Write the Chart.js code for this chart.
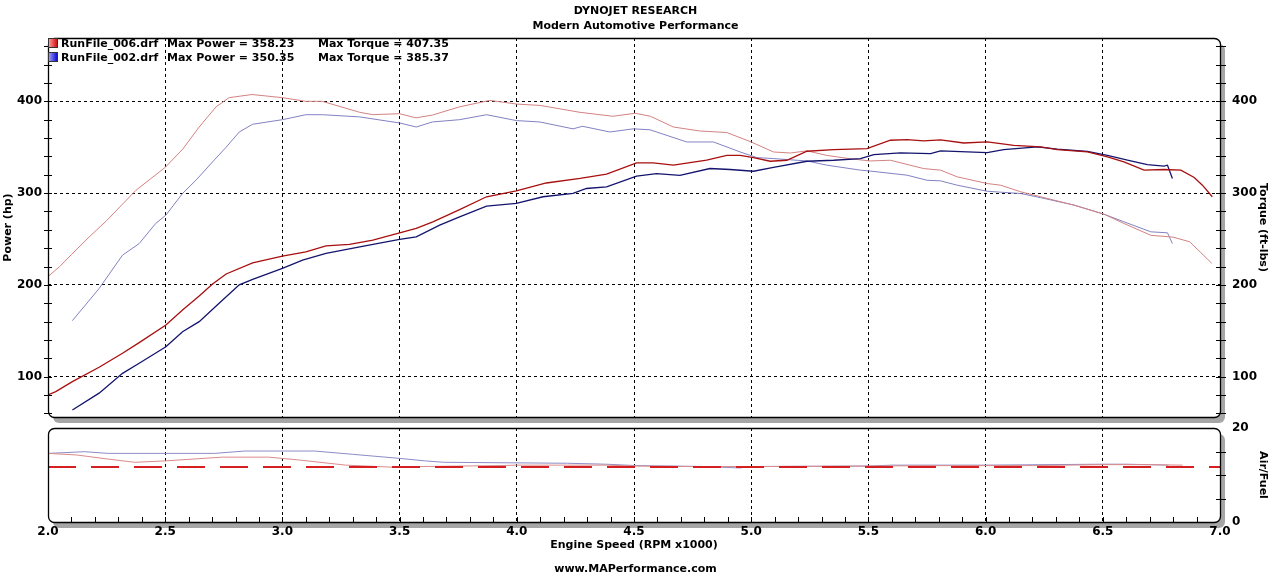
<!DOCTYPE html>
<meta charset="utf-8">
<title>Dynojet run comparison</title>
<script src="https://cdn.jsdelivr.net/npm/chart.js@4.4.1/dist/chart.umd.min.js"></script>
<style>
body {
	margin: 0;
	background: #fff;
	font-family: 'DejaVu Sans', Verdana, sans-serif;
	font-weight: bold;
	color: #000;
}
.wrap {
	position: relative;
	width: 1271px;
	height: 576px;
}
.wrap canvas {
	position: absolute;
	left: 0;
	top: 0;
}
.txt {
	position: absolute;
	font-size: 11px;
	line-height: 14px;
	white-space: pre;
}
.center {
	left: 0;
	width: 1271px;
	text-align: center;
}
.box {
	position: absolute;
	width: 8px;
	height: 8px;
	border: 1px solid #333;
}
</style>

<div class="wrap">
	<canvas id="main" width="1271" height="576"></canvas>
	<canvas id="afr" width="1271" height="576"></canvas>

	<div class="txt center" style="top:4px">DYNOJET RESEARCH</div>
	<div class="txt center" style="top:19px">Modern Automotive Performance</div>

	<div class="box" style="left:48px; top:38px; background:linear-gradient(90deg,#ff9a9a,#d01010)"></div>
	<div class="txt" style="left:61px; top:37px">RunFile_006.drf</div>
	<div class="txt" style="left:167px; top:37px">Max Power = 358.23</div>
	<div class="txt" style="left:318px; top:37px">Max Torque = 407.35</div>

	<div class="box" style="left:48px; top:52px; background:linear-gradient(90deg,#9a9aff,#1010c8)"></div>
	<div class="txt" style="left:61px; top:51px">RunFile_002.drf</div>
	<div class="txt" style="left:167px; top:51px">Max Power = 350.35</div>
	<div class="txt" style="left:318px; top:51px">Max Torque = 385.37</div>

	<div class="txt center" style="top:562px">www.MAPerformance.com</div>
</div>

<script>
// RunFile_006 (red)
const pwr006Rpm = [2.00, 2.033, 2.104, 2.218, 2.318, 2.389, 2.503, 2.574, 2.645, 2.702, 2.76, 2.873, 3.00, 3.10, 3.186, 3.286, 3.386, 3.50, 3.571, 3.642, 3.756, 3.871, 3.998, 4.126, 4.27, 4.383, 4.511, 4.582, 4.668, 4.81, 4.896, 4.953, 5.01, 5.081, 5.152, 5.238, 5.352, 5.494, 5.594, 5.665, 5.736, 5.808, 5.907, 6.007, 6.064, 6.12, 6.235, 6.306, 6.434, 6.52, 6.59, 6.676, 6.761, 6.833, 6.89, 6.925, 6.967];
const pwr006 = [80, 83.7, 94.6, 110.2, 125.5, 137, 156.3, 172.6, 187.8, 200.9, 211.8, 224, 231.3, 236, 242.5, 244, 248.7, 256.7, 261.5, 268.7, 282, 296, 302.5, 311, 316, 320.6, 332.9, 332.9, 330.4, 335.8, 341, 341, 338.7, 334.7, 335.8, 345.6, 347.4, 348.5, 357.6, 358.2, 356.8, 358, 354.6, 355.7, 354, 352, 350.3, 347.4, 344.8, 339.4, 334, 325, 325.7, 325, 317, 308.6, 296];

const tq006Rpm = [2.00, 2.05, 2.10, 2.175, 2.25, 2.375, 2.50, 2.575, 2.645, 2.717, 2.773, 2.87, 3.00, 3.10, 3.17, 3.33, 3.385, 3.50, 3.57, 3.64, 3.756, 3.885, 4.00, 4.10, 4.27, 4.41, 4.505, 4.57, 4.668, 4.78, 4.896, 5.00, 5.095, 5.167, 5.238, 5.324, 5.42, 5.508, 5.594, 5.736, 5.808, 5.879, 6.007, 6.064, 6.15, 6.235, 6.377, 6.505, 6.59, 6.705, 6.80, 6.87, 6.915, 6.965];
const tq006 = [209, 220, 233, 252, 270, 303, 328, 348, 372, 394, 404, 407.4, 404, 400, 400, 388, 385.5, 386.5, 382, 385, 394, 401, 397, 395.5, 388, 383.7, 387, 383.7, 372, 367.7, 366, 355.7, 344.8, 343.7, 346, 341, 337.5, 335, 335.8, 326.7, 325, 317.7, 310.4, 308.6, 301.4, 296, 286.8, 277, 266.9, 254, 252, 247, 236, 223.4];

// RunFile_002 (blue)
const pwr002Rpm = [2.104, 2.218, 2.318, 2.389, 2.503, 2.574, 2.645, 2.73, 2.816, 2.873, 3.00, 3.086, 3.186, 3.33, 3.50, 3.571, 3.671, 3.756, 3.871, 3.998, 4.112, 4.24, 4.297, 4.383, 4.511, 4.596, 4.696, 4.824, 4.91, 5.01, 5.095, 5.238, 5.352, 5.466, 5.523, 5.637, 5.765, 5.808, 6.007, 6.077, 6.221, 6.306, 6.434, 6.52, 6.605, 6.69, 6.761, 6.776, 6.797];
const pwr002 = [63.7, 82, 103.6, 114.5, 132.6, 149, 159.9, 179.9, 200, 206, 218, 227, 234.3, 241.5, 249.5, 252.4, 265, 274, 285.7, 288.7, 296, 299.6, 305, 306.7, 318.4, 321.3, 319.2, 326.8, 325.7, 323.8, 327.9, 334.7, 335.8, 337.6, 342, 343.8, 343, 346, 344.2, 347.4, 350.4, 348, 345.5, 341, 335.8, 331, 329.3, 330.4, 316];

const tq002Rpm = [2.104, 2.218, 2.318, 2.389, 2.46, 2.503, 2.574, 2.631, 2.702, 2.76, 2.816, 2.873, 3.00, 3.10, 3.172, 3.33, 3.50, 3.571, 3.64, 3.756, 3.871, 3.998, 4.098, 4.24, 4.28, 4.397, 4.497, 4.568, 4.725, 4.839, 4.953, 5.024, 5.095, 5.238, 5.324, 5.466, 5.508, 5.665, 5.75, 5.808, 5.879, 6.007, 6.15, 6.235, 6.377, 6.505, 6.59, 6.705, 6.776, 6.797];
const tq002 = [161, 196, 232.4, 245, 267, 276, 299.6, 314, 334, 350, 366.6, 375, 380, 385.4, 385.4, 383, 376.4, 372, 377.5, 380, 385.4, 379, 377.5, 370, 372.8, 366.6, 370, 369, 355.7, 355.7, 344.8, 338.7, 337.6, 335, 330.4, 325, 324, 319.5, 314, 313.3, 308.6, 302, 299.5, 295, 287, 277, 268.7, 257.8, 256.7, 245];

// air / fuel
const afr006Rpm = [2.0, 2.124, 2.255, 2.37, 2.5, 2.745, 2.94, 3.07, 3.27, 3.497, 3.595, 3.92, 4.0, 4.216, 4.38, 4.51, 4.8, 5.0, 5.5, 5.8, 6.2, 6.5, 6.7, 6.84];
const afr006 = [14.6, 14.25, 13.4, 12.7, 13.0, 13.8, 13.8, 13.2, 12.1, 11.6, 11.8, 12.0, 12.1, 12.1, 12.1, 11.9, 11.8, 11.8, 11.9, 12.0, 12.0, 12.2, 12.2, 12.1];
const afr002Rpm = [2.0, 2.157, 2.255, 2.71, 2.84, 3.137, 3.3, 3.497, 3.61, 3.69, 4.216, 4.38, 4.51, 4.8, 4.95, 5.0, 5.5, 5.6, 6.0, 6.5, 6.6, 6.78];
const afr002 = [14.6, 14.96, 14.6, 14.6, 15.1, 15.1, 14.4, 13.55, 13.0, 12.7, 12.5, 12.3, 12.0, 11.8, 11.5, 11.8, 11.9, 12.1, 12.1, 12.3, 12.3, 12.1];
const afrTarget = 11.7;

// axes
const rpmMin = 2.0, rpmMax = 7.0, rpmStep = 0.5;
const powerMin = 56, powerMax = 469, powerStep = 100;
const afrMin = 0, afrMax = 20;
const powerMinorTicks = Array.from({length: 21}, (_, i) => 60 + 20 * i);
const afrMinorTicks = [5, 10, 15];
const rpmMinorTicks = Array.from({length: 49}, (_, i) => +(2.1 + 0.1 * i).toFixed(1));

const pts = (xs, ys) => xs.map((x, i) => ({x: x, y: ys[i]}));

const font = (size) => ({family: "'DejaVu Sans', Verdana, sans-serif", size: size, weight: 'bold'});

const panelFrame = {
	id: 'panelFrame',
	beforeDraw(chart) {
		const {ctx, chartArea: a} = chart;
		const w = a.right - a.left, h = a.bottom - a.top;
		ctx.save();
		ctx.fillStyle = '#a6a6a6';
		ctx.beginPath();
		ctx.roundRect(a.left + 5, a.top + 6, w, h, 6);
		ctx.fill();
		ctx.fillStyle = '#fff';
		ctx.beginPath();
		ctx.roundRect(a.left, a.top, w, h, 6);
		ctx.fill();
		ctx.restore();
	},
	afterDraw(chart, args, opts) {
		const {ctx, chartArea: a, scales} = chart;
		ctx.save();
		ctx.strokeStyle = '#000';
		ctx.lineWidth = 1.3;
		ctx.beginPath();
		ctx.roundRect(a.left + 0.5, a.top + 0.5, a.right - a.left, a.bottom - a.top, 6);
		ctx.stroke();
		ctx.lineWidth = 1;
		ctx.beginPath();
		for (const v of opts.leftTicks || []) {
			const y = Math.round(scales.y.getPixelForValue(v)) + 0.5;
			ctx.moveTo(a.left - 4, y);
			ctx.lineTo(a.left + 4, y);
		}
		for (const v of opts.rightTicks || []) {
			const y = Math.round(scales.y.getPixelForValue(v)) + 0.5;
			ctx.moveTo(a.right - 4, y);
			ctx.lineTo(a.right + 6, y);
		}
		for (const v of opts.bottomTicks || []) {
			const x = Math.round(scales.x.getPixelForValue(v)) + 0.5;
			ctx.moveTo(x, a.bottom);
			ctx.lineTo(x, a.bottom - 5);
		}
		ctx.stroke();
		ctx.restore();
	}
};

const rpmGrid = {
	color: c => (c.tick && c.tick.value > rpmMin && c.tick.value < rpmMax) ? '#000' : 'rgba(0,0,0,0)',
	lineWidth: 1,
	drawTicks: false,
};

new Chart(document.getElementById('main'), {
	type: 'line',
	data: {
		datasets: [
			{data: pts(pwr006Rpm, pwr006), borderColor: '#a80f0f', borderWidth: 1.3, yAxisID: 'y'},
			{data: pts(pwr002Rpm, pwr002), borderColor: '#14146e', borderWidth: 1.3, yAxisID: 'y'},
			{data: pts(tq006Rpm, tq006), borderColor: '#d48282', borderWidth: 1, yAxisID: 'y2'},
			{data: pts(tq002Rpm, tq002), borderColor: '#8282c4', borderWidth: 1, yAxisID: 'y2'},
		]
	},
	options: {
		responsive: false,
		animation: false,
		events: [],
		layout: {padding: {top: 38, bottom: 576 - 417, left: 0, right: 0}},
		elements: {point: {radius: 0}, line: {tension: 0}},
		plugins: {
			legend: {display: false},
			tooltip: {enabled: false},
			panelFrame: {leftTicks: powerMinorTicks, rightTicks: powerMinorTicks},
		},
		scales: {
			x: {
				type: 'linear', min: rpmMin, max: rpmMax,
				ticks: {display: false, stepSize: rpmStep},
				grid: rpmGrid,
				border: {display: false, dash: [3, 3]},
				afterFit: s => { s.height = 0; },
			},
			y: {
				position: 'left', min: powerMin, max: powerMax,
				ticks: {stepSize: powerStep, color: '#000', font: font(12), padding: 6,
					callback: v => v % 100 === 0 ? v : ''},
				grid: {color: c => (c.tick && c.tick.value % 100 === 0) ? '#000' : 'rgba(0,0,0,0)', drawTicks: false},
				border: {display: false, dash: [3, 3]},
				title: {display: true, text: 'Power (hp)', color: '#000', font: font(11), padding: {top: 2, bottom: 0}},
				afterFit: s => { s.width = 48; },
			},
			y2: {
				position: 'right', min: powerMin, max: powerMax,
				ticks: {stepSize: powerStep, color: '#000', font: font(12), padding: 12,
					callback: v => v % 100 === 0 ? v : ''},
				grid: {drawOnChartArea: false, drawTicks: false},
				border: {display: false},
				title: {display: true, text: 'Torque (ft-lbs)', color: '#000', font: font(11), padding: {top: 1.5, bottom: 0}},
				afterFit: s => { s.width = 51; },
			},
		},
	},
	plugins: [panelFrame],
});

new Chart(document.getElementById('afr'), {
	type: 'line',
	data: {
		datasets: [
			{data: pts([rpmMin, rpmMax], [afrTarget, afrTarget]), borderColor: '#d42020', borderWidth: 2, borderDash: [28, 15], yAxisID: 'y'},
			{data: pts(afr006Rpm, afr006), borderColor: '#dc8a8a', borderWidth: 1, yAxisID: 'y'},
			{data: pts(afr002Rpm, afr002), borderColor: '#8c8cc8', borderWidth: 1, yAxisID: 'y'},
		]
	},
	options: {
		responsive: false,
		animation: false,
		events: [],
		layout: {padding: {top: 428, bottom: 0, left: 0, right: 0}},
		elements: {point: {radius: 0}, line: {tension: 0}},
		plugins: {
			legend: {display: false},
			tooltip: {enabled: false},
			panelFrame: {rightTicks: afrMinorTicks, bottomTicks: rpmMinorTicks},
		},
		scales: {
			x: {
				type: 'linear', min: rpmMin, max: rpmMax,
				ticks: {stepSize: rpmStep, color: '#000', font: font(12), padding: 3, maxRotation: 0,
					callback: v => v.toFixed(1)},
				grid: rpmGrid,
				border: {display: false, dash: [3, 3]},
				title: {display: true, text: 'Engine Speed (RPM x1000)', color: '#000', font: font(11), padding: {top: 0, bottom: 24}},
				afterFit: s => { s.height = 54; },
			},
			y: {
				position: 'left', min: afrMin, max: afrMax,
				ticks: {display: false},
				grid: {display: false},
				border: {display: false},
				afterFit: s => { s.width = 48; },
			},
			y2: {
				position: 'right', min: afrMin, max: afrMax,
				ticks: {stepSize: 20, color: '#000', font: font(12), padding: 12},
				grid: {drawOnChartArea: false, drawTicks: false},
				border: {display: false},
				title: {display: true, text: 'Air/Fuel', color: '#000', font: font(11), padding: {top: 1.5, bottom: 0}},
				afterFit: s => { s.width = 51; },
			},
		},
	},
	plugins: [panelFrame],
});
</script>
